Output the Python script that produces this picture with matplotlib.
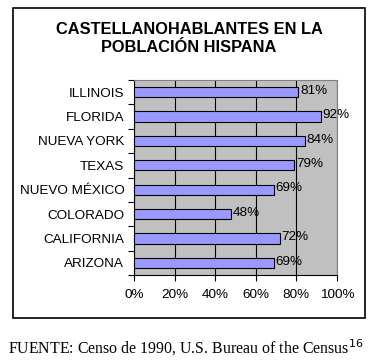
import matplotlib
matplotlib.use("Agg")
import matplotlib.pyplot as plt
from matplotlib.patches import Rectangle
import numpy as np

estados = ["ILLINOIS", "FLORIDA", "NUEVA YORK", "TEXAS", "NUEVO MÉXICO",
           "COLORADO", "CALIFORNIA", "ARIZONA"]
porcentajes = [81, 92, 84, 79, 69, 48, 72, 69]
ticks_x = [0, 20, 40, 60, 80, 100]

plt.rcParams['font.family'] = ['Liberation Sans', 'DejaVu Sans']

W, H = 379, 361
fig = plt.figure(figsize=(W / 100, H / 100), dpi=100)

# marco exterior del gráfico
fig.patches.append(Rectangle((13 / W, 1 - 318 / H), (365 - 13) / W, (318 - 8) / H,
                             transform=fig.transFigure, fill=False,
                             edgecolor='black', linewidth=1.2))

ax = fig.add_axes([134 / W, 1 - 275 / H, (337 - 134) / W, (275 - 80) / H])
ax.set_facecolor('#C0C0C0')

y = np.arange(len(estados))
ax.barh(y, porcentajes, height=0.42, color='#9999FF', edgecolor='black',
        linewidth=0.8, zorder=3)
for yi, v in zip(y, porcentajes):
    ax.text(v + 0.8, yi - 0.05, f"{v}%", va='center', ha='left', fontsize=9.7, zorder=4)

ax.set_xlim(0, 100)
ax.set_ylim(len(estados) - 0.5, -0.5)
ax.set_xticks(ticks_x)
ax.set_xticklabels([f"{t}%" for t in ticks_x], fontsize=9.7)
ax.set_yticks(y)
ax.set_yticklabels(estados, fontsize=9.7)
ax.tick_params(axis='y', length=0, pad=7)
ax.set_yticks(np.arange(len(estados) + 1) - 0.5, minor=True)
ax.tick_params(axis='y', which='minor', length=4, width=0.8)
ax.tick_params(axis='x', length=4, width=0.8, pad=6)
ax.xaxis.grid(True, color='black', linewidth=0.8, zorder=1)
ax.set_axisbelow(True)
for s in ax.spines.values():
    s.set_linewidth(0.8)
ax.spines['top'].set_color('#808080')
ax.spines['right'].set_color('#808080')

fig.text(189 / W, 1 - 38 / H, "CASTELLANOHABLANTES EN LA\nPOBLACIÓN HISPANA",
         ha='center', va='center', fontsize=11.8, fontweight='bold', linespacing=1.25)

fig.text(8 / W, 1 - 348 / H, "FUENTE: Censo de 1990, U.S. Bureau of the Census$^{16}$",
         ha='left', va='center', fontsize=11.4, family='Liberation Serif')

fig.savefig("out.png", dpi=100)
